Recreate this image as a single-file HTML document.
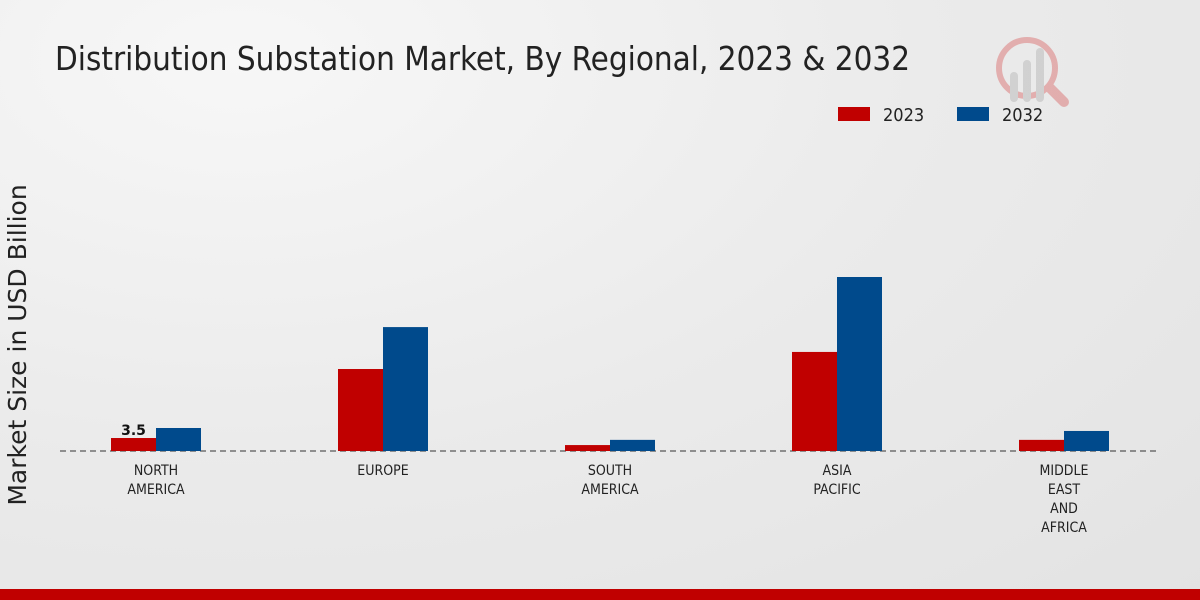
<!DOCTYPE html>
<html><head><meta charset="utf-8"><style>
body{margin:0;width:1200px;height:600px;overflow:hidden;font-family:"DejaVu Sans","Liberation Sans",sans-serif;}
#bg{position:absolute;left:0;top:0;width:1200px;height:600px;background:radial-gradient(ellipse at 20% 10%,#f7f7f7 0%,#ebebeb 50%,#e3e3e3 100%);}
</style></head><body>
<div id="bg"></div>
<svg id="chart" width="1200" height="600" style="position:absolute;left:0;top:0">
<text x="55" y="70" font-size="33" fill="#222" font-family="DejaVu Sans Condensed, DejaVu Sans, sans-serif" textLength="855" lengthAdjust="spacingAndGlyphs">Distribution Substation Market, By Regional, 2023 &amp; 2032</text>
<g opacity="0.25">
<circle cx="1027" cy="68" r="28" fill="none" stroke="#c00" stroke-width="6"/>
<rect x="1010" y="72" width="8" height="30" rx="4" fill="#888"/>
<rect x="1023" y="60" width="8" height="42" rx="4" fill="#888"/>
<rect x="1036" y="48" width="8" height="54" rx="4" fill="#888"/>
<line x1="1050" y1="88" x2="1064" y2="102" stroke="#c00" stroke-width="10" stroke-linecap="round"/>
</g>
<g>
<rect x="838" y="107" width="32" height="14" fill="#c00000"/>
<text x="883" y="121" font-size="18" fill="#222" font-family="DejaVu Sans Condensed, DejaVu Sans, sans-serif">2023</text>
<rect x="957" y="107" width="32" height="14" fill="#004a8c"/>
<text x="1002" y="121" font-size="18" fill="#222" font-family="DejaVu Sans Condensed, DejaVu Sans, sans-serif">2032</text>
</g>
<text transform="translate(26,345) rotate(-90)" text-anchor="middle" font-size="25" fill="#222">Market Size in USD Billion</text>
<line x1="60" y1="451" x2="1160" y2="451" stroke="#333" stroke-dasharray="6,4" stroke-width="1"/>
<g id="bars"></g>
<g id="labels"></g>
</svg>
<div style="position:absolute;left:0;top:589px;width:1200px;height:11px;background:#c00000"></div>
<script>
const categories=[["NORTH","AMERICA"],["EUROPE"],["SOUTH","AMERICA"],["ASIA","PACIFIC"],["MIDDLE","EAST","AND","AFRICA"]];
const values2023=[3.5,22.1,1.6,26.7,3.0];
const values2032=[6.2,33.4,3.0,46.9,5.4];
const ns="http://www.w3.org/2000/svg";
const baseY=451, pxPerUnit=3.71, x0=156, step=227, bw=45;
const yScale=v=>baseY-v*pxPerUnit;
const xCenter=i=>x0+i*step;
const bars=document.getElementById('bars'), labels=document.getElementById('labels');
function bar(x,v,color,name){
  const r=document.createElementNS(ns,'rect');
  r.setAttribute('x',x);r.setAttribute('y',yScale(v));r.setAttribute('width',bw);r.setAttribute('height',baseY-yScale(v));r.setAttribute('fill',color);
  
  
  bars.appendChild(r);
}
categories.forEach((c,i)=>{
  const cx=xCenter(i);
  bar(cx-bw,values2023[i],'#c00000','bar-2023-'+i);
  bar(cx,values2032[i],'#004a8c','bar-2032-'+i);
  c.forEach((line,j)=>{
    const t=document.createElementNS(ns,'text');
    t.setAttribute('x',cx);t.setAttribute('y',475+j*19);t.setAttribute('text-anchor','middle');
    t.setAttribute('font-size','14');t.setAttribute('fill','#222');
    t.setAttribute('font-family','DejaVu Sans Condensed, DejaVu Sans, sans-serif');
    t.textContent=line;
    
    
    labels.appendChild(t);
  });
});
const vl=document.createElementNS(ns,'text');
vl.setAttribute('x',xCenter(0)-bw/2);vl.setAttribute('y',yScale(values2023[0])-3);
vl.setAttribute('text-anchor','middle');vl.setAttribute('font-size','14');vl.setAttribute('font-weight','bold');vl.setAttribute('fill','#111');
vl.textContent=values2023[0];


labels.appendChild(vl);
</script>
</body></html>
